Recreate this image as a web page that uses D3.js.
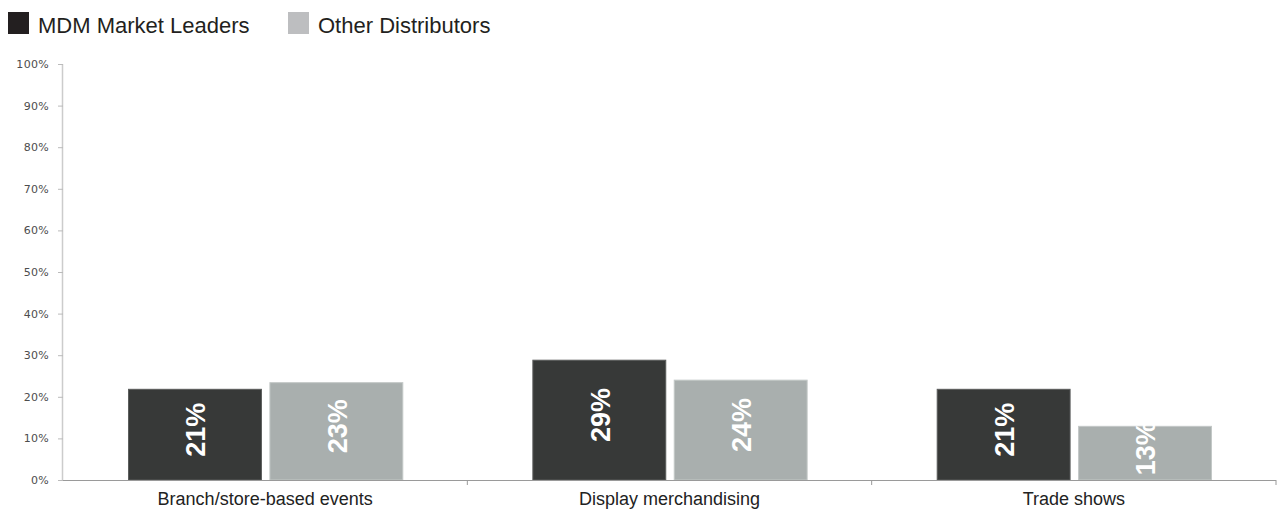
<!DOCTYPE html>
<html>
<head>
<meta charset="utf-8">
<script src="https://cdn.jsdelivr.net/npm/d3@7"></script>
<style>
  html, body { margin: 0; padding: 0; background: #fff; }
  svg { display: block; }
</style>
</head>
<body>
<svg id="chart" width="1282" height="510"></svg>
<script>
const categories = ["Branch/store-based events", "Display merchandising", "Trade shows"];
const seriesNames = ["MDM Market Leaders", "Other Distributors"];
const leadersValues = [21.8, 28.8, 21.8];
const othersValues = [23.4, 24.0, 12.9];
const leadersLabels = ["21%", "29%", "21%"];
const othersLabels = ["23%", "24%", "13%"];
const yTicks = [0, 10, 20, 30, 40, 50, 60, 70, 80, 90, 100];
const barColors = ["#373938", "#a9afae"];
const legendColors = ["#231f20", "#bdbec0"];

const svg = d3.select("#chart");
const x0 = 63, xEnd = 1276;
const yTop = 64, yBot = 480;

const x = d3.scaleBand().domain(categories).range([x0, xEnd]).paddingInner(0).paddingOuter(0);
const xs = d3.scaleBand().domain([0, 1]).range([0, x.bandwidth()]).paddingInner(0.06).paddingOuter(0.46);
const y = d3.scaleLinear().domain([0, 100]).range([yBot, yTop]);

// y axis
const yAxis = d3.axisLeft(y).tickValues(yTicks).tickFormat(d => d + "%").tickSize(5).tickPadding(9);
const gy = svg.append("g").attr("transform", `translate(${x0},0)`).call(yAxis);
gy.select(".domain").attr("stroke", "#cccccc").attr("stroke-width", 1.5).attr("d", `M-0.5,${yTop}V${yBot}`);
gy.selectAll(".tick line").attr("stroke", "#bbbbbb");
gy.selectAll(".tick text").attr("fill", "#4d4d4d").attr("font-family", "DejaVu Sans, Verdana, sans-serif")
  .attr("font-size", "11px").attr("letter-spacing", "0.3px");

// bars
const data = [];
categories.forEach((c, i) => {
  data.push({cat: c, s: 0, v: leadersValues[i], label: leadersLabels[i]});
  data.push({cat: c, s: 1, v: othersValues[i], label: othersLabels[i]});
});

const bars = svg.append("g");
bars.selectAll("rect").data(data).enter().append("rect")
  .attr("x", d => x(d.cat) + xs(d.s) + 0.5)
  .attr("y", d => y(d.v))
  .attr("width", xs.bandwidth())
  .attr("height", d => yBot - y(d.v))
  .attr("fill", d => barColors[d.s])
  .attr("stroke", d => d.s === 0 ? "#5a5c5b" : "#c3c8c7")
  .attr("stroke-width", 1);

bars.selectAll("text").data(data).enter().append("text")
  .attr("transform", d => {
    const cx = x(d.cat) + xs(d.s) + xs.bandwidth() / 2 + 1;
    const cy = (y(d.v) + yBot) / 2 - 5;
    return `translate(${cx},${cy}) rotate(-90)`;
  })
  .attr("text-anchor", "middle")
  .attr("dy", "0.36em")
  .attr("fill", "#ffffff")
  .attr("font-family", "Liberation Sans, Arial, sans-serif")
  .attr("font-weight", "bold")
  .attr("font-size", "27px")
  .text(d => d.label);

// x axis
const xAxisG = svg.append("g");
xAxisG.append("line").attr("x1", x0).attr("x2", xEnd).attr("y1", yBot + 0.5).attr("y2", yBot + 0.5)
  .attr("stroke", "#9a9a9a").attr("stroke-width", 1.2);
const bounds = categories.map(c => x(c) + x.bandwidth());
xAxisG.selectAll("line.tk").data(bounds).enter().append("line").attr("class", "tk")
  .attr("x1", d => d).attr("x2", d => d).attr("y1", yBot).attr("y2", yBot + 5)
  .attr("stroke", "#9a9a9a");
xAxisG.selectAll("text").data(categories).enter().append("text")
  .attr("x", d => x(d) + x.bandwidth() / 2)
  .attr("y", 505)
  .attr("text-anchor", "middle")
  .attr("fill", "#222")
  .attr("font-family", "Liberation Sans, Arial, sans-serif")
  .attr("font-size", "18px")
  .text(d => d);

// legend
const legend = svg.append("g");
const legendX = [8, 288];
seriesNames.forEach((n, i) => {
  legend.append("rect").attr("x", legendX[i]).attr("y", 12).attr("width", 21).attr("height", 22).attr("fill", legendColors[i]);
  legend.append("text").attr("x", legendX[i] + 30).attr("y", 33)
    .attr("fill", "#231f20")
    .attr("font-family", "Liberation Sans, Arial, sans-serif")
    .attr("font-size", "22px")
    .text(n);
});
</script>
</body>
</html>
